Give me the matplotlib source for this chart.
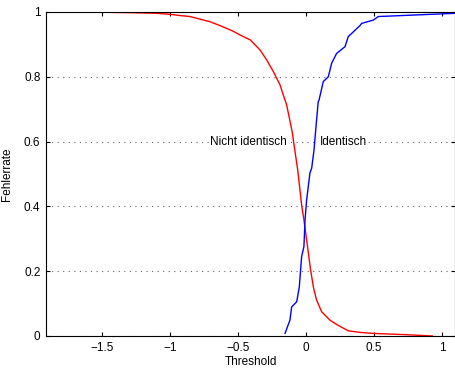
import numpy as np
import matplotlib
matplotlib.use("Agg")
import matplotlib.pyplot as plt

plt.rcParams['font.family'] = ['Liberation Sans', 'DejaVu Sans']

# Nicht identisch (red)
red_x = [-1.91, -1.6, -1.3, -1.1, -1.0, -0.926, -0.853, -0.78, -0.706, -0.632,
         -0.537, -0.485, -0.41, -0.338, -0.289, -0.24, -0.191, -0.167, -0.142,
         -0.10, -0.093, -0.06, -0.032, -0.015, 0.005, 0.034, 0.055, 0.078,
         0.115, 0.176, 0.22, 0.262, 0.311, 0.40, 0.495, 0.74, 0.93]
red_y = [1.0, 1.0, 0.998, 0.996, 0.993, 0.989, 0.986, 0.978, 0.970, 0.958,
         0.941, 0.929, 0.914, 0.883, 0.852, 0.816, 0.775, 0.744, 0.713,
         0.627, 0.605, 0.51, 0.404, 0.358, 0.296, 0.204, 0.15, 0.111,
         0.075, 0.049, 0.037, 0.027, 0.016, 0.011, 0.008, 0.004, 0.0]

# Identisch (blue)
blue_x = [-0.154, -0.118, -0.105, -0.081, -0.068, -0.049, -0.032, -0.015,
          -0.007, 0.005, 0.029, 0.042, 0.059, 0.078, 0.09, 0.096, 0.127,
          0.164, 0.189, 0.225, 0.287, 0.311, 0.397, 0.41, 0.495, 0.532,
          0.985, 1.096]
blue_y = [0.008, 0.049, 0.09, 0.10, 0.106, 0.152, 0.245, 0.276, 0.358, 0.42,
          0.503, 0.518, 0.574, 0.667, 0.723, 0.728, 0.785, 0.80, 0.842, 0.872,
          0.893, 0.924, 0.958, 0.965, 0.975, 0.986, 0.994, 0.996]

x_ticks = [-1.5, -1, -0.5, 0, 0.5, 1]
x_labels = ['\u22121.5', '\u22121', '\u22120.5', '0', '0.5', '1']
y_ticks = [0, 0.2, 0.4, 0.6, 0.8, 1]
y_labels = ['0', '0.2', '0.4', '0.6', '0.8', '1']

fig = plt.figure(figsize=(4.56, 3.70), dpi=100)
ax = fig.add_axes([46 / 456, 34 / 370, 409 / 456, 324 / 370])

ax.plot(red_x, red_y, color='red', lw=1.0)
ax.plot(blue_x, blue_y, color='blue', lw=1.0)

ax.set_xlim(-1.912, 1.096)
ax.set_ylim(0, 1)
ax.set_xticks(x_ticks)
ax.set_xticklabels(x_labels)
ax.set_yticks(y_ticks)
ax.set_yticklabels(y_labels)
ax.tick_params(direction='in', top=True, right=True, labelsize=8.5, length=3, pad=4)
ax.yaxis.grid(True, linestyle=(0, (1, 4)), color='0.4', lw=0.8)
ax.set_axisbelow(True)
for s in ax.spines.values():
    s.set_linewidth(0.8)

ax.set_xlabel('Threshold', fontsize=8.5, labelpad=2)
ax.set_ylabel('Fehlerrate', fontsize=8.5, labelpad=8)

ax.text(-0.14, 0.6, 'Nicht identisch', fontsize=8.5, ha='right', va='center',
        bbox=dict(facecolor='white', edgecolor='none', pad=1))
ax.text(0.1, 0.6, 'Identisch', fontsize=8.5, ha='left', va='center',
        bbox=dict(facecolor='white', edgecolor='none', pad=1))

fig.savefig('out.png', dpi=100)
